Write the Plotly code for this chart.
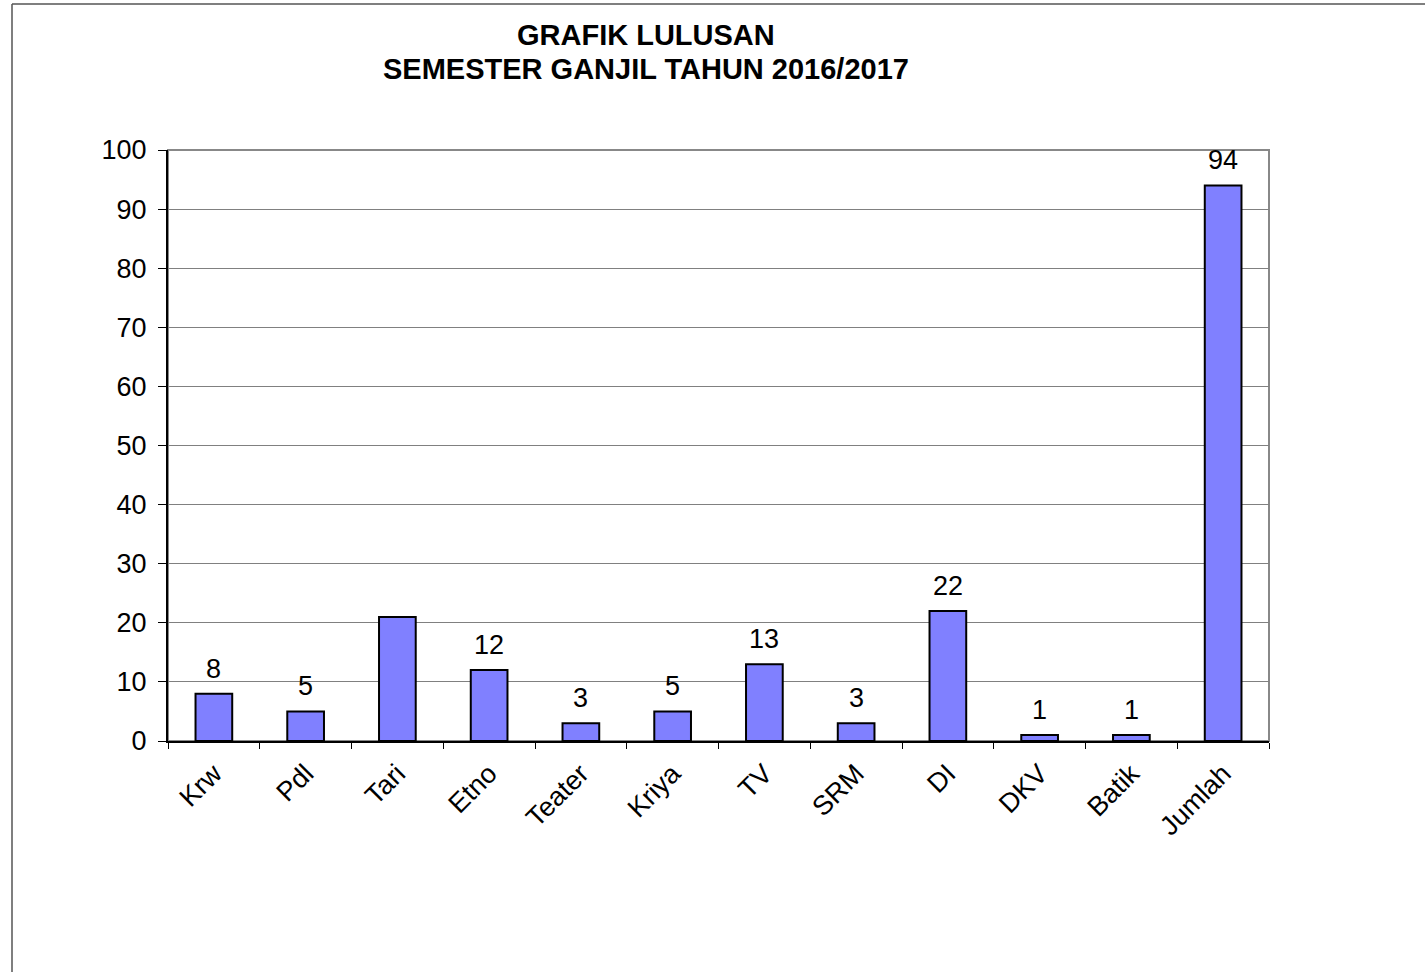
import plotly.graph_objects as go

categories = ["Krw", "Pdl", "Tari", "Etno", "Teater", "Kriya", "TV", "SRM", "DI", "DKV", "Batik", "Jumlah"]
values = [8, 5, 21, 12, 3, 5, 13, 3, 22, 1, 1, 94]
labels = ["8", "5", "", "12", "3", "5", "13", "3", "22", "1", "1", "94"]
y_ticks = [0, 10, 20, 30, 40, 50, 60, 70, 80, 90, 100]
title_lines = ["GRAFIK LULUSAN", "SEMESTER GANJIL TAHUN 2016/2017"]

W, H = 1425, 972
L, R, T, B = 168, 1269, 150, 741
FONT = "Liberation Sans, Arial, sans-serif"
FS = 27

fig = go.Figure()
fig.add_trace(go.Bar(
    x=categories, y=values, width=0.4,
    marker=dict(color="#8080FF", line=dict(color="black", width=2)),
    hoverinfo="x+y",
))

for c, v, t in zip(categories, values, labels):
    if t:
        fig.add_annotation(x=c, y=v, text=t, showarrow=False, yanchor="bottom",
                           yshift=8, font=dict(size=FS, color="black", family=FONT))

pw, ph = R - L, B - T

def px(x):
    return (x - L) / pw

def py(y):
    return (B - y) / ph

for line, yc in zip(title_lines, [35, 69]):
    fig.add_annotation(xref="paper", yref="paper", x=px(646), y=py(yc), text=f"<b>{line}</b>",
                       showarrow=False, xanchor="center", yanchor="middle",
                       font=dict(size=29, color="black", family=FONT))

# outer frame (left and top edges)
fig.add_shape(type="line", xref="paper", yref="paper",
              x0=px(12), x1=px(12), y0=py(4), y1=py(990),
              line=dict(color="#555555", width=1.5))
fig.add_shape(type="line", xref="paper", yref="paper",
              x0=px(12), x1=px(1440), y0=py(4), y1=py(4),
              line=dict(color="#555555", width=1.5))
# plot area border (top/right gray)
fig.add_shape(type="rect", xref="paper", yref="paper", x0=0, x1=1, y0=0, y1=1,
              line=dict(color="#888888", width=2), layer="below")

fig.update_layout(
    width=W, height=H,
    margin=dict(l=L, r=W - R, t=T, b=H - B, autoexpand=False),
    paper_bgcolor="white", plot_bgcolor="white",
    showlegend=False,
    font=dict(family=FONT, size=FS, color="black"),
    bargap=0.6,
)
fig.update_xaxes(
    type="category", showgrid=False, tickson="boundaries", ticks="outside",
    ticklen=6, tickcolor="black", tickwidth=1, tickangle=-45,
    showline=True, linecolor="black", linewidth=2,
    ticklabelstandoff=4,
    tickfont=dict(size=FS, family=FONT, color="black"),
)
fig.update_yaxes(
    range=[0, 100], tickvals=y_ticks, ticks="outside", ticklen=8, tickcolor="black",
    showgrid=True, gridcolor="#808080", gridwidth=1,
    showline=True, linecolor="black", linewidth=2, zeroline=False,
    ticklabelstandoff=6,
    tickfont=dict(size=FS, family=FONT, color="black"),
)

fig.write_html("out.html", config={"displayModeBar": False},
               post_script="document.body.style.margin='0';document.body.style.overflow='hidden';")
